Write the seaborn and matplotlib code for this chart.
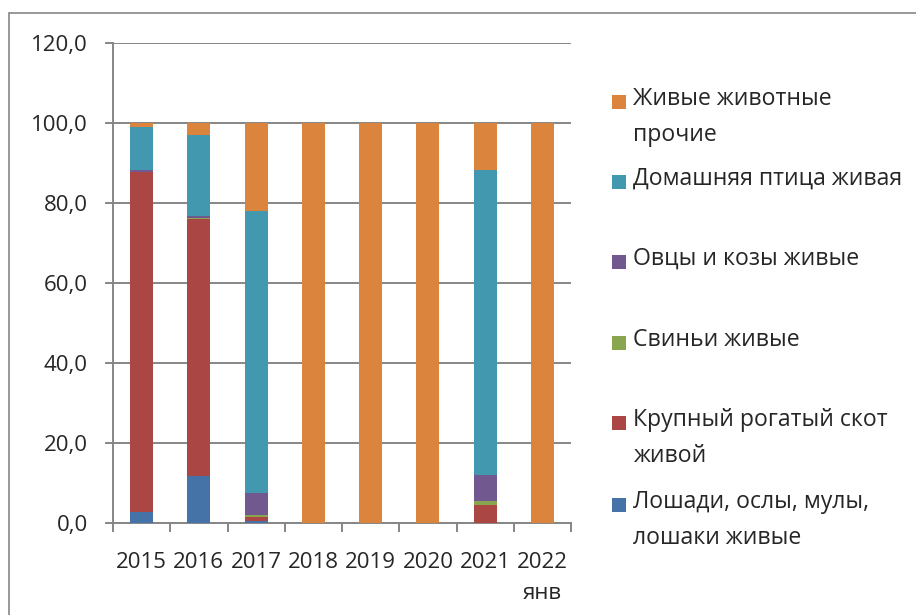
import numpy as np
import pandas as pd
import matplotlib
matplotlib.use("Agg")
import matplotlib.pyplot as plt
from matplotlib.patches import Rectangle
import seaborn as sns

# Shares of live animal imports by group, %
years = ["2015", "2016", "2017", "2018", "2019", "2020", "2021", "2022\nянв"]
horses = [2.6, 11.8, 0.5, 0, 0, 0, 0, 0]
cattle = [85.0, 64.2, 1.0, 0, 0, 0, 4.4, 0]
pigs = [0.1, 0.3, 0.4, 0, 0, 0, 1.0, 0]
sheep = [0.6, 0.5, 5.45, 0, 0, 0, 6.5, 0]
poultry = [10.7, 20.2, 70.65, 0, 0, 0, 76.3, 0]
other = [1.0, 3.0, 22.0, 100, 100, 100, 11.8, 100]

series_names = [
    "Лошади, ослы, мулы,\nлошаки живые",
    "Крупный рогатый скот\nживой",
    "Свиньи живые",
    "Овцы и козы живые",
    "Домашняя птица живая",
    "Живые животные\nпрочие",
]
series_values = [horses, cattle, pigs, sheep, poultry, other]
colors = ["#4572A7", "#AA4643", "#89A54E", "#71588F", "#4198AF", "#DB843D"]

sns.set_style("white")
plt.rcParams["font.family"] = ["Open Sans", "DejaVu Sans"]

W, H = 916, 615
fig = plt.figure(figsize=(W / 100, H / 100), dpi=100)
ax = fig.add_axes([113 / W, 1 - 522.7 / H, (571 - 113) / W, (522.7 - 42.7) / H])

df = pd.DataFrame(dict(zip(series_names, series_values)), index=years)
cum = df.cumsum(axis=1)

# stack by overdrawing cumulative totals, top series first
for name, col in reversed(list(zip(series_names, colors))):
    sns.barplot(x=list(df.index), y=cum[name].values, color=col, width=0.4,
                saturation=1, edgecolor="none", ax=ax, zorder=3)

grid_c = "#868686"
ax.set_ylim(0, 120)
ax.set_xlim(-0.5, len(years) - 0.5)
ax.set_yticks(np.arange(0, 121, 20))
ax.set_yticklabels([f"{v:.1f}".replace(".", ",") for v in np.arange(0, 121, 20)])
ax.yaxis.grid(True, color=grid_c, lw=1.4, zorder=0)
ax.set_axisbelow(True)
for s in ["top", "right"]:
    ax.spines[s].set_visible(False)
for s in ["left", "bottom"]:
    ax.spines[s].set_color(grid_c)
    ax.spines[s].set_linewidth(1.4)
ax.set_xlabel("")
ax.set_ylabel("")

ax.set_xticks(range(len(years)))
ax.set_xticklabels(years, linespacing=1.65)
ax.set_xticks(np.arange(-0.5, len(years), 1), minor=True)
ax.tick_params(axis="x", which="major", length=0, pad=21, labelsize=16)
ax.tick_params(axis="x", which="minor", length=6.5, width=1.4, color=grid_c, direction="out")
ax.tick_params(axis="y", length=6, width=1.4, color=grid_c, direction="out", pad=12, labelsize=16)
ax.tick_params(left=True, bottom=False)
ax.tick_params(axis="x", which="minor", bottom=True)

# legend drawn on the right, top entry = last series
legend_y = [102, 182, 262, 343, 423, 505]
for (name, col), y in zip(reversed(list(zip(series_names, colors))), legend_y):
    fig.add_artist(Rectangle((612 / W, 1 - (y + 7) / H), 14 / W, 14 / H,
                             transform=fig.transFigure, color=col, lw=0))
    fig.text(633 / W, 1 - (y - 15) / H, name, fontsize=16.6, va="top", ha="left",
             linespacing=1.65)

# outer chart frame
fig.add_artist(Rectangle((9 / W, -0.1), 1.2, 1.1 - 13 / H, transform=fig.transFigure,
                         fill=False, edgecolor=grid_c, lw=1.2))

fig.savefig("out.png", dpi=100)
